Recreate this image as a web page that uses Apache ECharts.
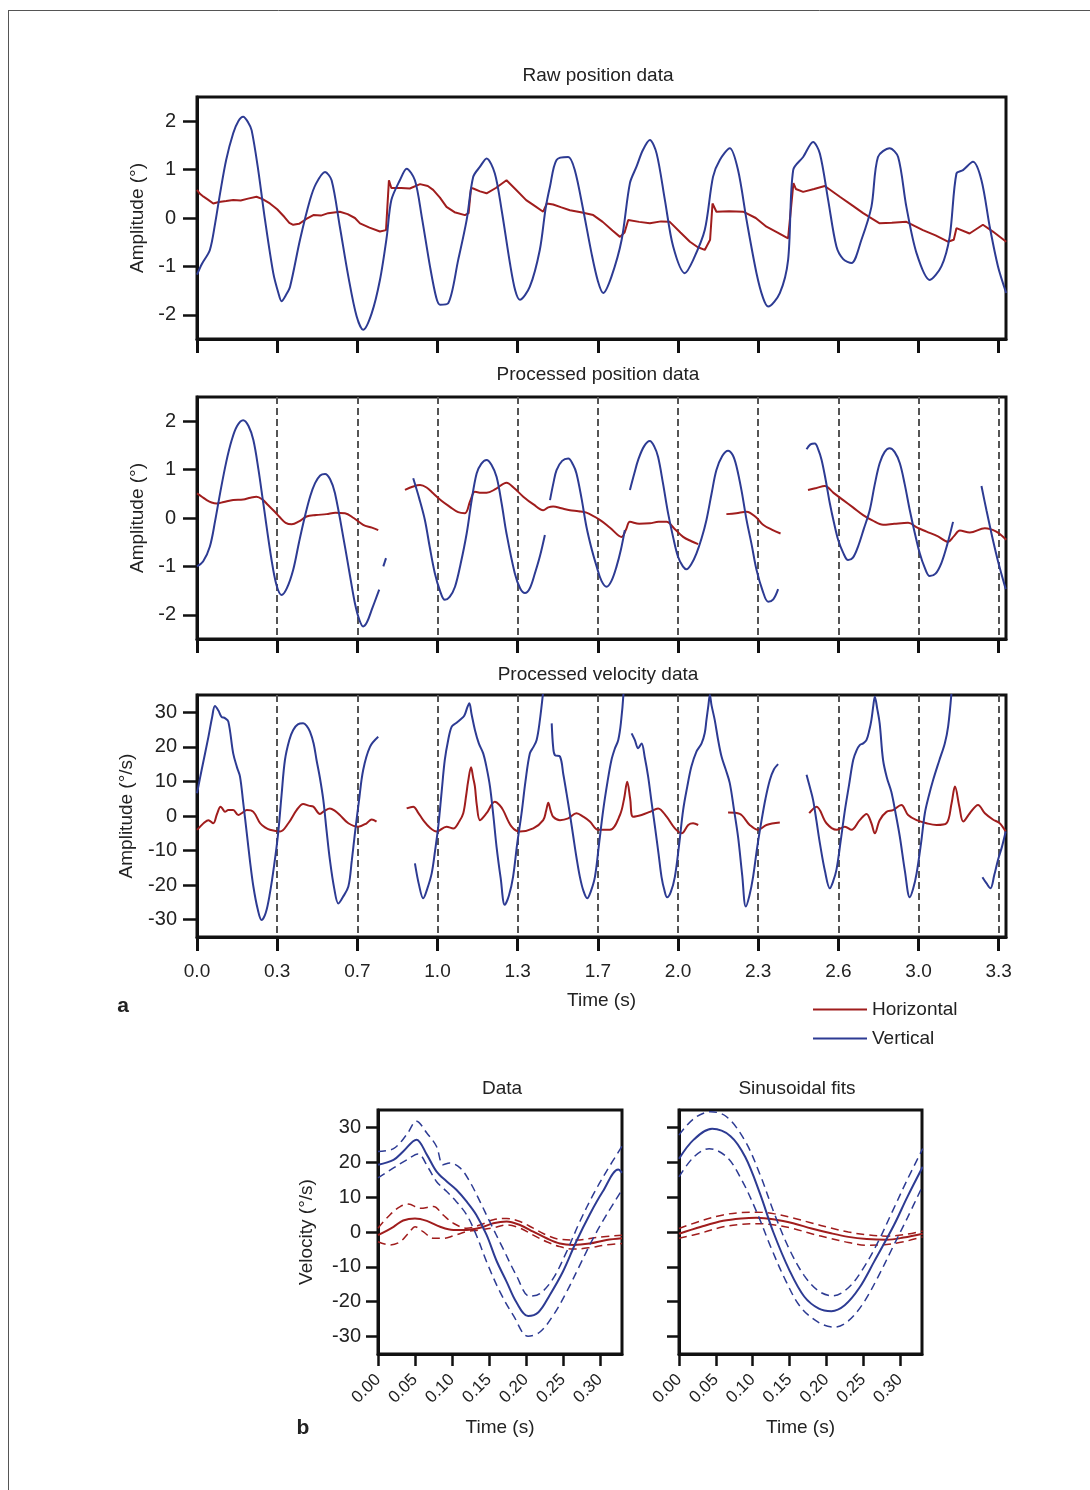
<!DOCTYPE html>
<html><head><meta charset="utf-8">
<script src="https://cdn.jsdelivr.net/npm/echarts@6/dist/echarts.min.js"></script>
<style>html,body{margin:0;padding:0;background:#fff}#c{width:1090px;height:1490px}</style>
</head><body><div id="c"></div><script>
// ---------- tick labels ----------
const xTickVals = [0, 0.33, 0.66, 0.99, 1.32, 1.65, 1.98, 2.31, 2.64, 2.97, 3.30];
const xTickLabels = ['0.0','0.3','0.7','1.0','1.3','1.7','2.0','2.3','2.6','3.0','3.3'];
const posTicks = [-2, -1, 0, 1, 2];
const velTicks = [-30, -20, -10, 0, 10, 20, 30];
const bXTicks = [0, 0.05, 0.10, 0.15, 0.20, 0.25, 0.30];
const bXLabels = ['0.00','0.05','0.10','0.15','0.20','0.25','0.30'];

// ---------- raw position data ----------
const rawVertical = [[0,-1.17],[0.02,-0.95],[0.053,-0.66],[0.075,-0.1],[0.095,0.51],[0.12,1.2],[0.149,1.75],[0.17,2.0],[0.19,2.09],[0.21,1.98],[0.225,1.81],[0.252,0.99],[0.28,-0.04],[0.314,-1.14],[0.335,-1.55],[0.348,-1.72],[0.365,-1.6],[0.383,-1.42],[0.424,-0.45],[0.465,0.37],[0.49,0.71],[0.527,0.95],[0.554,0.78],[0.588,-0.18],[0.623,-1.21],[0.657,-2.03],[0.684,-2.31],[0.719,-1.97],[0.753,-1.28],[0.781,-0.39],[0.80,0.37],[0.835,0.78],[0.863,1.02],[0.897,0.78],[0.925,0.03],[0.959,-1.0],[0.985,-1.65],[1.0,-1.79],[1.034,-1.76],[1.075,-0.87],[1.11,-0.04],[1.137,0.85],[1.165,1.06],[1.192,1.23],[1.226,0.92],[1.254,0.16],[1.288,-0.93],[1.31,-1.5],[1.329,-1.69],[1.37,-1.42],[1.411,-0.66],[1.435,0.2],[1.453,0.65],[1.48,1.2],[1.528,1.26],[1.555,0.99],[1.59,0.16],[1.624,-0.73],[1.65,-1.3],[1.672,-1.55],[1.706,-1.21],[1.748,-0.45],[1.782,0.72],[1.809,1.06],[1.835,1.4],[1.864,1.61],[1.892,1.33],[1.926,0.37],[1.96,-0.59],[2.008,-1.14],[2.042,-0.87],[2.09,-0.25],[2.124,0.85],[2.152,1.2],[2.193,1.44],[2.227,0.99],[2.262,-0.04],[2.303,-1.14],[2.33,-1.65],[2.351,-1.83],[2.399,-1.55],[2.433,-0.87],[2.454,0.99],[2.495,1.26],[2.536,1.57],[2.564,1.33],[2.598,0.37],[2.632,-0.59],[2.66,-0.85],[2.694,-0.93],[2.735,-0.45],[2.776,0.23],[2.803,1.26],[2.851,1.44],[2.886,1.26],[2.92,0.23],[2.962,-0.73],[3.016,-1.28],[3.064,-1.0],[3.098,-0.39],[3.126,0.92],[3.153,0.99],[3.194,1.16],[3.229,0.78],[3.263,-0.18],[3.297,-1.0],[3.331,-1.55]];
const rawHorizontal = [[0,0.58],[0.012,0.5],[0.027,0.44],[0.045,0.38],[0.067,0.30],[0.09,0.33],[0.12,0.35],[0.149,0.37],[0.18,0.36],[0.21,0.40],[0.245,0.44],[0.27,0.39],[0.30,0.30],[0.33,0.18],[0.36,0.02],[0.38,-0.1],[0.396,-0.14],[0.42,-0.12],[0.45,-0.02],[0.479,0.06],[0.51,0.05],[0.54,0.10],[0.588,0.13],[0.62,0.08],[0.65,0.0],[0.671,-0.11],[0.71,-0.2],[0.753,-0.28],[0.778,-0.25],[0.79,0.78],[0.8,0.62],[0.808,0.58],[0.84,0.62],[0.876,0.61],[0.918,0.70],[0.95,0.66],[0.972,0.58],[1.0,0.42],[1.027,0.23],[1.06,0.12],[1.103,0.06],[1.118,0.1],[1.128,0.62],[1.137,0.61],[1.165,0.55],[1.192,0.51],[1.23,0.62],[1.274,0.78],[1.31,0.6],[1.355,0.37],[1.39,0.25],[1.425,0.13],[1.44,0.30],[1.466,0.28],[1.5,0.22],[1.535,0.16],[1.58,0.12],[1.631,0.06],[1.67,-0.08],[1.71,-0.26],[1.741,-0.39],[1.76,-0.3],[1.775,-0.04],[1.82,-0.08],[1.864,-0.11],[1.91,-0.07],[1.946,-0.08],[1.99,-0.3],[2.029,-0.49],[2.06,-0.6],[2.09,-0.66],[2.112,-0.45],[2.122,0.30],[2.138,0.13],[2.19,0.14],[2.248,0.13],[2.3,0.0],[2.344,-0.18],[2.39,-0.3],[2.433,-0.42],[2.455,0.72],[2.465,0.6],[2.495,0.54],[2.54,0.6],[2.584,0.66],[2.646,0.44],[2.7,0.25],[2.742,0.10],[2.78,-0.02],[2.81,-0.11],[2.86,-0.1],[2.92,-0.08],[2.988,-0.25],[3.04,-0.36],[3.091,-0.49],[3.115,-0.45],[3.126,-0.21],[3.18,-0.32],[3.235,-0.14],[3.276,-0.28],[3.331,-0.49]];

// ---------- processed position data (segments) ----------
const ppV1 = [[0,-1.0],[0.025,-0.9],[0.053,-0.59],[0.075,-0.05],[0.095,0.51],[0.12,1.15],[0.143,1.61],[0.165,1.9],[0.19,2.02],[0.212,1.9],[0.232,1.61],[0.253,1.0],[0.273,0.30],[0.307,-0.87],[0.328,-1.4],[0.348,-1.59],[0.37,-1.45],[0.396,-1.07],[0.42,-0.5],[0.444,0.03],[0.466,0.45],[0.486,0.72],[0.507,0.88],[0.527,0.91],[0.548,0.8],[0.568,0.51],[0.609,-0.59],[0.63,-1.2],[0.65,-1.76],[0.668,-2.1],[0.684,-2.24],[0.70,-2.15],[0.719,-1.90],[0.75,-1.48]];
const ppV2 = [[0.767,-1.0],[0.778,-0.83]];
const ppV3 = [[0.89,0.82],[0.915,0.4],[0.938,-0.04],[0.958,-0.6],[0.979,-1.14],[1.0,-1.5],[1.02,-1.69],[1.04,-1.63],[1.062,-1.42],[1.085,-0.95],[1.11,-0.32],[1.13,0.35],[1.151,0.92],[1.17,1.12],[1.192,1.20],[1.212,1.1],[1.233,0.85],[1.254,0.3],[1.274,-0.32],[1.308,-1.14],[1.33,-1.45],[1.35,-1.55],[1.37,-1.45],[1.391,-1.14],[1.412,-0.78],[1.432,-0.35]];
const ppV4 = [[1.453,0.37],[1.467,0.72],[1.48,0.99],[1.503,1.18],[1.528,1.23],[1.548,1.1],[1.562,0.92],[1.583,0.4],[1.603,-0.18],[1.625,-0.65],[1.645,-1.0],[1.665,-1.3],[1.686,-1.42],[1.706,-1.3],[1.727,-1.0],[1.745,-0.65],[1.761,-0.25]];
const ppV5 = [[1.782,0.58],[1.8,0.92],[1.816,1.20],[1.84,1.48],[1.864,1.59],[1.882,1.48],[1.898,1.26],[1.918,0.72],[1.939,0.10],[1.96,-0.4],[1.98,-0.80],[2.0,-1.0],[2.015,-1.06],[2.035,-0.95],[2.056,-0.73],[2.077,-0.42],[2.097,-0.04],[2.118,0.5],[2.138,0.99],[2.162,1.28],[2.186,1.39],[2.205,1.3],[2.221,1.06],[2.242,0.55],[2.262,-0.04],[2.283,-0.55],[2.303,-1.07],[2.328,-1.5],[2.351,-1.73],[2.372,-1.68],[2.392,-1.47]];
const ppV6 = [[2.509,1.42],[2.525,1.52],[2.543,1.54],[2.557,1.42],[2.571,1.20],[2.588,0.78],[2.605,0.30],[2.622,-0.1],[2.639,-0.45],[2.66,-0.72],[2.68,-0.87],[2.70,-0.82],[2.721,-0.59],[2.745,-0.22],[2.769,0.16],[2.79,0.7],[2.81,1.13],[2.83,1.36],[2.851,1.44],[2.872,1.36],[2.893,1.13],[2.913,0.7],[2.934,0.16],[2.955,-0.32],[2.975,-0.73],[2.995,-1.02],[3.016,-1.20],[3.04,-1.15],[3.064,-0.93],[3.088,-0.55],[3.112,-0.08]];
const ppV7 = [[3.229,0.66],[3.25,0.15],[3.276,-0.45],[3.3,-0.95],[3.329,-1.47]];
const ppH1 = [[0,0.51],[0.02,0.44],[0.04,0.37],[0.06,0.32],[0.081,0.30],[0.11,0.33],[0.149,0.37],[0.19,0.38],[0.22,0.42],[0.245,0.44],[0.27,0.38],[0.29,0.28],[0.314,0.16],[0.34,0.02],[0.365,-0.1],[0.39,-0.13],[0.42,-0.07],[0.451,0.03],[0.49,0.06],[0.533,0.08],[0.57,0.11],[0.609,0.10],[0.645,0.0],[0.684,-0.14],[0.72,-0.2],[0.746,-0.25]];
const ppH2 = [[0.856,0.58],[0.89,0.65],[0.918,0.68],[0.945,0.63],[0.972,0.51],[1.005,0.36],[1.041,0.23],[1.075,0.12],[1.103,0.10],[1.125,0.36],[1.144,0.54],[1.17,0.52],[1.192,0.52],[1.23,0.6],[1.274,0.73],[1.305,0.62],[1.343,0.44],[1.385,0.28],[1.425,0.16],[1.446,0.22],[1.466,0.24],[1.5,0.2],[1.535,0.16],[1.57,0.14],[1.603,0.11],[1.658,-0.04],[1.7,-0.2],[1.748,-0.39],[1.765,-0.25],[1.782,-0.08],[1.82,-0.12],[1.864,-0.11],[1.9,-0.08],[1.933,-0.08],[1.965,-0.22],[2.001,-0.39],[2.035,-0.48],[2.063,-0.54]];
const ppH3 = [[2.179,0.08],[2.22,0.1],[2.262,0.13],[2.3,0.02],[2.33,-0.14],[2.37,-0.25],[2.402,-0.32]];
const ppH4 = [[2.515,0.58],[2.55,0.62],[2.584,0.66],[2.62,0.52],[2.66,0.37],[2.7,0.22],[2.742,0.06],[2.78,-0.05],[2.824,-0.14],[2.87,-0.12],[2.927,-0.10],[2.965,-0.2],[3.003,-0.28],[3.05,-0.38],[3.091,-0.49],[3.115,-0.38],[3.14,-0.26],[3.181,-0.30],[3.243,-0.21],[3.29,-0.28],[3.331,-0.45]];

// ---------- processed velocity data (segments) ----------
const pvV1 = [[0,6.6],[0.019,13.3],[0.047,22.9],[0.062,28.5],[0.074,31.8],[0.088,30.5],[0.101,28.7],[0.115,28.3],[0.129,27.3],[0.149,18.1],[0.165,14.0],[0.177,11.4],[0.19,4.0],[0.205,-5.0],[0.218,-13],[0.232,-20.4],[0.25,-27],[0.266,-30.1],[0.283,-28],[0.30,-22.4],[0.318,-14],[0.334,-5.0],[0.348,6],[0.362,16.2],[0.38,22],[0.396,24.9],[0.415,26.5],[0.437,26.8],[0.452,26],[0.465,24.4],[0.48,21],[0.492,16.2],[0.506,11],[0.52,4.6],[0.533,-4],[0.547,-12.7],[0.565,-21],[0.582,-25.3],[0.6,-23.5],[0.623,-20.4],[0.637,-13],[0.65,-5.0],[0.666,4],[0.684,13.3],[0.712,20.0],[0.746,22.9]];
const pvV2 = [[0.897,-13.7],[0.914,-20],[0.931,-23.8],[0.948,-21],[0.966,-16.6],[0.98,-10],[0.993,-3.1],[1.007,7],[1.02,16.2],[1.034,22],[1.048,25.8],[1.065,26.8],[1.082,27.8],[1.1,29],[1.113,31.5],[1.121,32.6],[1.13,29.5],[1.144,24.9],[1.16,21],[1.178,18.1],[1.192,14],[1.206,8.5],[1.22,0],[1.233,-8.9],[1.25,-18],[1.267,-25.7],[1.284,-23],[1.301,-17.6],[1.318,-8],[1.336,0.8],[1.352,10],[1.37,18.1],[1.385,20],[1.398,22.0],[1.41,27],[1.425,36]];
const pvV3 = [[1.46,26.8],[1.466,20],[1.473,17.6],[1.494,17.2],[1.508,12],[1.521,6.6],[1.535,0.5],[1.549,-6.0],[1.562,-12],[1.576,-17.6],[1.59,-21.5],[1.606,-23.8],[1.62,-22],[1.638,-17.6],[1.655,-8],[1.672,1.7],[1.69,10],[1.706,16.2],[1.72,19.5],[1.734,22.0],[1.745,27],[1.756,36]];
const pvV4 = [[1.789,23.9],[1.802,22.0],[1.816,19.6],[1.83,21.0],[1.843,17],[1.857,11.4],[1.871,4],[1.885,-3.1],[1.9,-11],[1.912,-17.6],[1.924,-21.5],[1.935,-23.5],[1.95,-22],[1.967,-17.6],[1.985,-8],[2.001,1.7],[2.018,8.5],[2.035,14.3],[2.055,18.5],[2.077,21.0],[2.09,24],[2.097,27.8],[2.105,32],[2.111,35.0],[2.118,32],[2.131,27.8],[2.145,22],[2.159,17.2],[2.176,13.5],[2.193,9.5],[2.21,2],[2.227,-6.0],[2.244,-17],[2.259,-26.2],[2.274,-23],[2.289,-17.6],[2.306,-9],[2.324,-1.2],[2.34,5],[2.358,10.4],[2.375,13.5],[2.392,15.0]];
const pvV5 = [[2.509,11.9],[2.522,8.5],[2.536,4.6],[2.55,-1.5],[2.564,-7.9],[2.585,-16],[2.605,-20.9],[2.618,-19],[2.632,-15.6],[2.65,-7],[2.667,1.7],[2.684,9],[2.701,16.2],[2.715,19],[2.728,20.5],[2.742,21],[2.756,22.0],[2.768,25],[2.776,27.8],[2.784,32],[2.79,34.5],[2.8,31],[2.81,26.8],[2.824,16.2],[2.84,11],[2.858,7.0],[2.875,1],[2.893,-6.0],[2.914,-16],[2.934,-23.5],[2.948,-21],[2.962,-16.6],[2.98,-8],[2.996,0.8],[3.013,6],[3.03,10.4],[3.055,16],[3.078,21.0],[3.092,26],[3.106,36]];
const pvV6 = [[3.233,-17.7],[3.25,-19.5],[3.266,-20.9],[3.282,-17],[3.297,-12.7],[3.313,-9],[3.329,-4.5]];
const pvH1 = [[0,-4.0],[0.014,-3.0],[0.027,-2.1],[0.047,-1.2],[0.067,-2.1],[0.082,0.5],[0.097,2.7],[0.106,2.0],[0.115,1.2],[0.129,1.7],[0.149,1.7],[0.17,0.3],[0.188,1.0],[0.205,1.7],[0.232,1.2],[0.26,-2.1],[0.28,-3.3],[0.30,-4.0],[0.342,-4.5],[0.376,-2.1],[0.41,1.7],[0.437,3.5],[0.46,3.0],[0.479,2.7],[0.506,0.6],[0.525,1.5],[0.547,2.2],[0.568,1.5],[0.588,0.3],[0.623,-2.1],[0.664,-3.1],[0.698,-2.1],[0.719,-1.0],[0.739,-1.6]];
const pvH2 = [[0.863,2.2],[0.89,2.7],[0.91,1.0],[0.931,-1.2],[0.96,-3.5],[0.986,-4.5],[1.027,-3.1],[1.055,-3.6],[1.08,-1.5],[1.096,0.8],[1.108,6],[1.116,10],[1.128,14.1],[1.137,11],[1.144,8.5],[1.152,3],[1.165,-1.2],[1.192,0.8],[1.226,4.1],[1.245,3.2],[1.26,1.7],[1.295,-3.1],[1.329,-4.5],[1.384,-3.6],[1.425,-1.2],[1.437,1.5],[1.446,3.8],[1.456,1.5],[1.466,-0.2],[1.494,-1.2],[1.528,-0.7],[1.562,0.8],[1.59,-0.2],[1.617,-1.6],[1.651,-4.0],[1.70,-4.0],[1.741,0.3],[1.758,5],[1.771,9.9],[1.783,5],[1.795,-0.2],[1.83,0.3],[1.864,1.2],[1.898,2.2],[1.933,-0.2],[1.967,-3.6],[1.995,-5.0],[2.022,-2.6],[2.042,-2.1],[2.063,-2.6]];
const pvH3 = [[2.186,1.0],[2.234,0.6],[2.275,-2.6],[2.309,-4.0],[2.344,-2.6],[2.399,-1.9]];
const pvH4 = [[2.52,0.8],[2.55,2.7],[2.591,-2.1],[2.632,-4.0],[2.667,-3.1],[2.694,-4.0],[2.728,-1.2],[2.756,0.6],[2.776,-2.1],[2.79,-5.0],[2.81,-1.2],[2.838,1.2],[2.865,1.7],[2.899,3.2],[2.927,0.3],[2.962,-1.2],[3.003,-2.1],[3.044,-2.6],[3.085,-2.1],[3.106,3.7],[3.12,8.5],[3.138,2.7],[3.154,-1.6],[3.181,0.8],[3.215,3.2],[3.243,0.8],[3.276,-1.0],[3.304,-2.1],[3.329,-4.5]];

// ---------- panel b: averaged data ----------
const dataVMean = [[0,19.3],[0.021,20.7],[0.034,23.1],[0.052,26.5],[0.066,22.2],[0.079,17.4],[0.093,14.5],[0.106,12.1],[0.12,8.7],[0.133,4.9],[0.147,-0.9],[0.16,-8.1],[0.174,-14.3],[0.187,-20.1],[0.203,-24.1],[0.217,-23.0],[0.232,-18.2],[0.25,-11.4],[0.268,-2.8],[0.286,4.9],[0.304,11.6],[0.325,17.9],[0.33,17.0]];
const dataVUpper = [[0,23.1],[0.021,23.9],[0.039,28],[0.052,31.8],[0.066,28.4],[0.079,24.6],[0.088,19.3],[0.097,19.8],[0.111,18.4],[0.124,14.5],[0.138,8.7],[0.151,3.0],[0.169,-4.7],[0.187,-12.4],[0.205,-18.4],[0.219,-17.7],[0.237,-13.3],[0.255,-5.7],[0.273,3.0],[0.291,10.7],[0.309,17.4],[0.33,24.6]];
const dataVLower = [[0,15.5],[0.021,18.4],[0.039,20.7],[0.054,22.4],[0.068,18.4],[0.079,14.5],[0.093,11.6],[0.106,8.7],[0.12,4.9],[0.133,-0.9],[0.147,-8.6],[0.165,-17.2],[0.183,-23.9],[0.203,-29.9],[0.219,-28.7],[0.237,-23.9],[0.255,-17.2],[0.273,-9.5],[0.291,-1.8],[0.309,4.9],[0.33,12.1]];
const dataHMean = [[0,-0.9],[0.021,1.5],[0.034,3.3],[0.05,3.9],[0.066,3.2],[0.084,1.5],[0.102,0.6],[0.12,0.6],[0.138,1.2],[0.156,2.5],[0.174,3.0],[0.192,2.0],[0.21,0.1],[0.228,-1.8],[0.246,-3.3],[0.264,-3.7],[0.286,-3.3],[0.309,-2.3],[0.33,-1.8]];
const dataHUpper = [[0,1.1],[0.016,4.9],[0.03,7.3],[0.041,8.0],[0.057,6.8],[0.075,7.3],[0.088,4.9],[0.102,2.5],[0.12,1.1],[0.138,2.0],[0.156,3.5],[0.174,3.9],[0.192,3.0],[0.21,1.1],[0.228,-0.9],[0.246,-2.1],[0.268,-2.3],[0.295,-1.6],[0.33,-0.9]];
const dataHLower = [[0,-2.8],[0.016,-3.7],[0.03,-2.8],[0.043,0.1],[0.05,1.5],[0.061,0.1],[0.075,-1.8],[0.088,-1.8],[0.102,-1.1],[0.12,0.1],[0.138,0.6],[0.156,1.2],[0.174,2.0],[0.192,1.1],[0.21,-0.9],[0.228,-2.8],[0.246,-4.2],[0.264,-4.9],[0.286,-4.5],[0.309,-3.7],[0.33,-3.3]];

// ---------- panel b: sinusoidal fits ----------
const fitVMean = [[0,21],[0.02,26.5],[0.045,29.6],[0.07,27.5],[0.09,21.5],[0.11,11],[0.128,0],[0.15,-11],[0.17,-18.5],[0.19,-22],[0.207,-22.7],[0.225,-21],[0.245,-16],[0.265,-8.5],[0.292,2],[0.31,10],[0.331,18.7]];
const fitVUpper = [[0,27.8],[0.02,32.5],[0.043,34.5],[0.065,33],[0.09,26],[0.11,16.5],[0.13,5],[0.15,-5],[0.17,-12.5],[0.19,-17],[0.209,-18.3],[0.23,-16],[0.25,-10.5],[0.27,-3],[0.29,6],[0.31,15],[0.331,23.9]];
const fitVLower = [[0,15.8],[0.02,21.5],[0.041,23.9],[0.065,21.5],[0.085,15],[0.105,6],[0.125,-4.5],[0.145,-14],[0.165,-21.5],[0.19,-26],[0.211,-27.3],[0.23,-25.5],[0.25,-20.5],[0.27,-13],[0.29,-4.5],[0.31,4],[0.331,13.3]];
const fitHMean = [[0,-0.5],[0.03,1.5],[0.06,3.2],[0.085,3.9],[0.105,4.1],[0.13,3.6],[0.155,2.5],[0.18,1.0],[0.205,-0.3],[0.23,-1.4],[0.255,-2.0],[0.282,-2.2],[0.305,-1.6],[0.331,-0.5]];
const fitHUpper = [[0,1.0],[0.03,3.2],[0.06,4.9],[0.085,5.6],[0.105,5.7],[0.13,5.2],[0.155,4.0],[0.18,2.6],[0.205,1.2],[0.23,0.0],[0.255,-0.8],[0.282,-1.2],[0.305,-0.8],[0.331,0.3]];
const fitHLower = [[0,-1.8],[0.03,-0.3],[0.06,1.5],[0.085,2.2],[0.105,2.4],[0.13,2.0],[0.155,1.0],[0.18,-0.5],[0.205,-1.8],[0.23,-3.0],[0.255,-3.8],[0.282,-3.6],[0.305,-2.8],[0.331,-1.4]];

// ---------- styles ----------
const RED = '#a01d1d', BLUE = '#2d3b93', INK = '#111', TXT = '#222';
const FONT = '"Liberation Sans", Arial, Helvetica, sans-serif';

function line(data, g, color, name, extra) {
  const s = {
    type: 'line', name: name, xAxisIndex: g, yAxisIndex: g, data: data,
    symbol: 'none', showSymbol: false, smooth: 0.35, animation: false, silent: true,
    clip: true, connectNulls: false,
    lineStyle: { color: color, width: 2 }, itemStyle: { color: color },
    emphasis: { disabled: true }, z: 3
  };
  return Object.assign(s, extra || {});
}
const dash = (w) => ({ lineStyle: { type: [8, 5], width: w || 1.5 } });

const xFmt = (v) => { const k = Math.round(v / 0.33); return Math.abs(v - k * 0.33) < 1e-6 ? (xTickLabels[k] || '') : ''; };
const bFmt = (v) => { const k = Math.round(v / 0.05); return Math.abs(v - k * 0.05) < 1e-6 ? (bXLabels[k] || '') : ''; };

function topX(g) {
  return {
    type: 'value', gridIndex: g, min: 0, max: 3.33, interval: 0.33,
    axisLine: { show: true, onZero: false, lineStyle: { color: INK, width: 3 } },
    axisTick: { show: true, inside: false, length: 14, customValues: xTickVals, lineStyle: { color: INK, width: 3 } },
    axisLabel: { show: g === 2, customValues: xTickVals, formatter: xFmt, margin: 25, fontSize: 19, color: TXT, fontFamily: FONT },
    splitLine: { show: g > 0, showMinLine: false, lineStyle: { type: [7, 4], color: '#555', width: 2 } },
    name: g === 2 ? 'Time (s)' : '', nameLocation: 'middle', nameGap: 54,
    nameTextStyle: { fontSize: 19, color: TXT, fontFamily: FONT }
  };
}
function yAx(g, min, max, ticks, name, gap, showLabel, tickLen, margin) {
  return {
    type: 'value', gridIndex: g, min: min, max: max,
    axisLine: { show: true, onZero: false, lineStyle: { color: INK, width: 3 } },
    axisTick: { show: true, inside: false, length: tickLen, customValues: ticks, lineStyle: { color: INK, width: 2.5 } },
    axisLabel: { show: showLabel, customValues: ticks, margin: margin, fontSize: 20, color: TXT, fontFamily: FONT },
    splitLine: { show: false },
    name: name, nameLocation: 'middle', nameGap: gap, nameRotate: 90,
    nameTextStyle: { fontSize: 19, color: TXT, fontFamily: FONT }
  };
}
function bX(g) {
  return {
    type: 'value', gridIndex: g, min: 0, max: 0.33, interval: 0.05,
    axisLine: { show: true, onZero: false, lineStyle: { color: INK, width: 3 } },
    axisTick: { show: true, inside: false, length: 12, customValues: bXTicks, lineStyle: { color: INK, width: 2.5 } },
    axisLabel: { show: true, customValues: bXTicks, formatter: bFmt, rotate: 45, margin: 23, fontSize: 17, color: TXT, fontFamily: FONT },
    splitLine: { show: false },
    name: 'Time (s)', nameLocation: 'middle', nameGap: 64,
    nameTextStyle: { fontSize: 19, color: TXT, fontFamily: FONT }
  };
}

const gridBase = { show: true, borderColor: INK, borderWidth: 3, backgroundColor: 'transparent', containLabel: false, outerBoundsMode: 'none' };
const grids = [
  Object.assign({ left: 197, top: 97, width: 809, height: 242 }, gridBase),
  Object.assign({ left: 197, top: 397, width: 809, height: 242 }, gridBase),
  Object.assign({ left: 197, top: 695, width: 809, height: 242 }, gridBase),
  Object.assign({ left: 378, top: 1110, width: 244, height: 244 }, gridBase),
  Object.assign({ left: 679, top: 1110, width: 243, height: 244 }, gridBase)
];

const series = [];
// panel 1
series.push(line(rawHorizontal, 0, RED, 'Horizontal', { smooth: false }));
series.push(line(rawVertical, 0, BLUE, 'Vertical', { smooth: 0.3 }));
// panel 2
[ppH1, ppH2, ppH3, ppH4].forEach(d => series.push(line(d, 1, RED, 'Horizontal')));
[ppV1, ppV2, ppV3, ppV4, ppV5, ppV6, ppV7].forEach(d => series.push(line(d, 1, BLUE, 'Vertical')));
// panel 3
[pvH1, pvH2, pvH3, pvH4].forEach(d => series.push(line(d, 2, RED, 'Horizontal')));
[pvV1, pvV2, pvV3, pvV4, pvV5, pvV6].forEach(d => series.push(line(d, 2, BLUE, 'Vertical')));
// panel b left
series.push(line(dataHUpper, 3, RED, 'Horizontal', dash()));
series.push(line(dataHLower, 3, RED, 'Horizontal', dash()));
series.push(line(dataHMean, 3, RED, 'Horizontal'));
series.push(line(dataVUpper, 3, BLUE, 'Vertical', dash()));
series.push(line(dataVLower, 3, BLUE, 'Vertical', dash()));
series.push(line(dataVMean, 3, BLUE, 'Vertical'));
// panel b right
series.push(line(fitHUpper, 4, RED, 'Horizontal', dash()));
series.push(line(fitHLower, 4, RED, 'Horizontal', dash()));
series.push(line(fitHMean, 4, RED, 'Horizontal'));
series.push(line(fitVUpper, 4, BLUE, 'Vertical', dash()));
series.push(line(fitVLower, 4, BLUE, 'Vertical', dash()));
series.push(line(fitVMean, 4, BLUE, 'Vertical'));
series.forEach(s => { if (s.lineStyle.type) s.lineStyle.color = s.itemStyle.color; });

const txt = (x, y, t, size, weight) => ({
  type: 'text', x: x, y: y, silent: true,
  style: { text: t, fontSize: size, fontWeight: weight || 'normal', fill: TXT, fontFamily: FONT, textAlign: 'center', textVerticalAlign: 'middle' }
});

const option = {
  backgroundColor: '#fff',
  animation: false,
  textStyle: { fontFamily: FONT },
  grid: grids,
  xAxis: [topX(0), topX(1), topX(2), bX(3), bX(4)],
  yAxis: [
    yAx(0, -2.5, 2.5, posTicks, 'Amplitude (°)', 40, true, 14, 21),
    yAx(1, -2.5, 2.5, posTicks, 'Amplitude (°)', 40, true, 14, 21),
    yAx(2, -35, 35, velTicks, 'Amplitude (°/s)', 61, true, 14, 20),
    yAx(3, -35, 35, velTicks, 'Velocity (°/s)', 62, true, 12, 17),
    yAx(4, -35, 35, velTicks, '', 40, false, 12, 17)
  ],
  legend: {
    show: true, orient: 'vertical', left: 808, top: 995, itemWidth: 54, itemHeight: 2, itemGap: 10,
    selectedMode: false,
    textStyle: { fontSize: 19, color: TXT, fontFamily: FONT },
    data: [{ name: 'Horizontal', icon: 'rect' }, { name: 'Vertical', icon: 'rect' }]
  },
  series: series,
  graphic: [
    { type: 'line', silent: true, shape: { x1: 8, y1: 10.5, x2: 1090, y2: 10.5 }, style: { stroke: '#555', lineWidth: 1 } },
    { type: 'line', silent: true, shape: { x1: 8.5, y1: 10, x2: 8.5, y2: 1490 }, style: { stroke: '#555', lineWidth: 1 } },
    txt(598, 76, 'Raw position data', 19),
    txt(598, 375, 'Processed position data', 19),
    txt(598, 675, 'Processed velocity data', 19),
    txt(502, 1089, 'Data', 19),
    txt(797, 1089, 'Sinusoidal fits', 19),
    txt(123, 1006, 'a', 21, 'bold'),
    txt(303, 1428, 'b', 21, 'bold')
  ]
};
const chart = echarts.init(document.getElementById('c'), null, { renderer: 'canvas' });
chart.setOption(option);
</script></body></html>
